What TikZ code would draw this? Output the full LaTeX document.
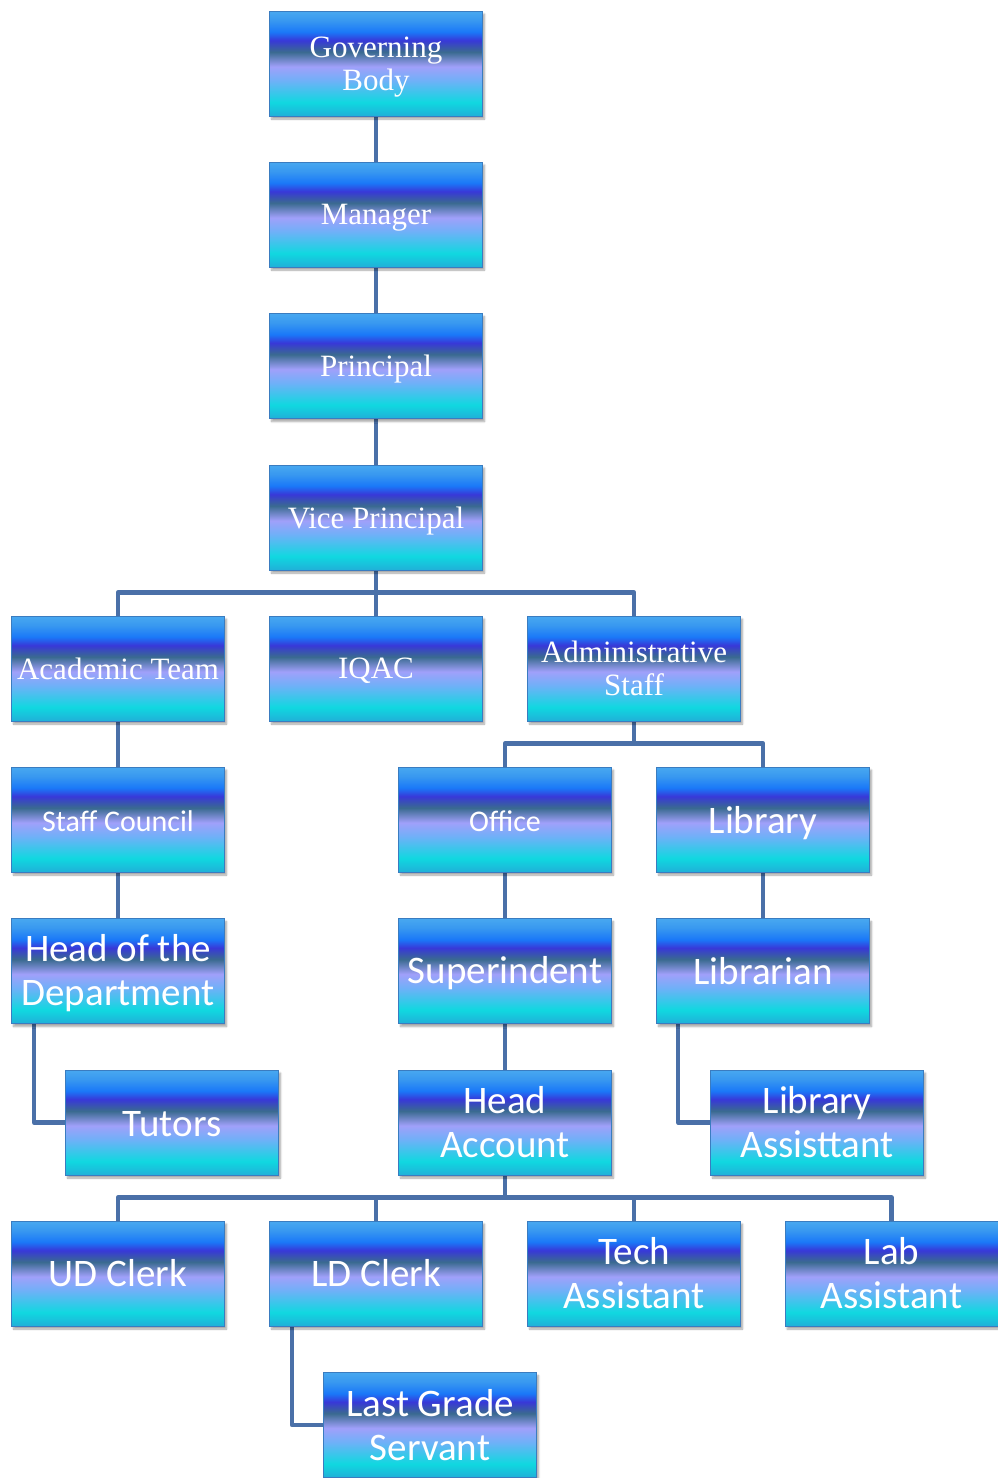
\documentclass[tikz,border=0pt]{standalone}
\usepackage{fontspec}
\setmainfont{Liberation Serif}
\newfontfamily\calfont{Carlito}
\usetikzlibrary{shadows.blur}
\definecolor{cTop}{HTML}{48A8F0}
\definecolor{cA}{HTML}{3898F0}
\definecolor{cB}{HTML}{1A78F8}
\definecolor{cC}{HTML}{3838D8}
\definecolor{cD}{HTML}{3A6A90}
\definecolor{cE}{HTML}{A0A0FA}
\definecolor{cF}{HTML}{70B0F8}
\definecolor{cG}{HTML}{10D8E0}
\definecolor{cBot}{HTML}{20B0D8}
\definecolor{edgeC}{HTML}{3A7CC0}
\definecolor{lineC}{HTML}{4A70A8}
\pgfdeclareverticalshading{boxshade}{100bp}{%
  color(0bp)=(cBot); color(25bp)=(cBot); color(31.5bp)=(cG); color(42bp)=(cF);
  color(48.5bp)=(cE); color(55.5bp)=(cD); color(61bp)=(cC); color(65bp)=(cB);
  color(70.5bp)=(cA); color(75bp)=(cTop); color(100bp)=(cTop)}
\pgfdeclarelayer{bg}
\pgfsetlayers{bg,main}
\newcommand\dn[1]{\raisebox{-3.5pt}[\height][\depth]{#1}}
\newcommand\dm[1]{\raisebox{-2pt}[\height][\depth]{#1}}
\tikzset{
  orgbox/.style={draw=edgeC, line width=0.8pt, shading=boxshade,
    minimum width=213pt, minimum height=105pt, inner sep=0pt, align=center,
    text=white,
    blur shadow={shadow xshift=2pt, shadow yshift=-3pt, shadow blur steps=6, shadow opacity=35}},
  serifbox/.style={orgbox, font=\fontsize{31}{33}\selectfont},
  calbox/.style={orgbox, font=\calfont\fontsize{39}{44}\selectfont},
  calsmall/.style={orgbox, font=\calfont\fontsize{30}{33}\selectfont},
  conn/.style={draw=lineC, line width=4.5pt, line join=round}
}
\begin{document}
\begin{tikzpicture}[x=1pt, y=-1pt]
\useasboundingbox (0,0) rectangle (998,1478);
\node[serifbox] (gb) at (376,63.5) {\dn{Governing}\\\dn{Body}};
\node[serifbox] (mgr) at (376,214.5) {\dn{Manager}};
\node[serifbox] (pr) at (376,366) {\dn{Principal}};
\node[serifbox] (vp) at (376,517.5) {\dn{Vice Principal}};
\node[serifbox] (acad) at (118,668.5) {Academic Team};
\node[serifbox] (iqac) at (376,668.5) {\dm{IQAC}};
\node[serifbox] (admin) at (634,668.5) {Administrative\\Staff};
\node[calsmall] (sc) at (118,819.5) {\dm{Staff Council}};
\node[calsmall] (office) at (505,819.5) {\dm{Office}};
\node[calbox] (lib) at (763,819.5) {\dn{Library}};
\node[calbox] (hod) at (118,971) {\dm{Head of the}\\\dm{Department}};
\node[calbox] (sup) at (505,971) {\dm{Superindent}};
\node[calbox] (libn) at (763,971) {Librarian};
\node[calbox] (tut) at (172,1122.5) {\dm{Tutors}};
\node[calbox] (ha) at (505,1122.5) {Head\\Account};
\node[calbox] (la) at (817,1122.5) {Library\\Assisttant};
\node[calbox] (ud) at (118,1273.5) {UD Clerk};
\node[calbox] (ld) at (376,1273.5) {LD Clerk};
\node[calbox] (tech) at (634,1273.5) {Tech\\Assistant};
\node[calbox] (lab) at (891.5,1273.5) {Lab\\Assistant};
\node[calbox] (lgs) at (430,1425) {Last Grade\\Servant};
\begin{pgfonlayer}{bg}
\draw[conn] (gb.south) -- (mgr.north);
\draw[conn] (mgr.south) -- (pr.north);
\draw[conn] (pr.south) -- (vp.north);
\draw[conn] (vp.south) -- (iqac.north);
\draw[conn] (acad.north) -- ++(0,-23) coordinate (busA) -| (admin.north);
\draw[conn] (acad.south) -- (sc.north);
\draw[conn] (sc.south) -- (hod.north);
\draw[conn] ([xshift=23pt]hod.south west) |- (tut.west);
\draw[conn] (admin.south) -- ++(0,23) coordinate (busB);
\draw[conn] (office.north) -- ++(0,-23) -| (lib.north);
\draw[conn] (office.south) -- (sup.north);
\draw[conn] (sup.south) -- (ha.north);
\draw[conn] (lib.south) -- (libn.north);
\draw[conn] ([xshift=22pt]libn.south west) |- (la.west);
\draw[conn] (ha.south) -- ++(0,23) coordinate (busC);
\draw[conn] (ud.north) -- ++(0,-23) -| (lab.north);
\draw[conn] (ld.north) -- ++(0,-23);
\draw[conn] (tech.north) -- ++(0,-23);
\draw[conn] ([xshift=23pt]ld.south west) |- (lgs.west);
\end{pgfonlayer}
\end{tikzpicture}
\end{document}
